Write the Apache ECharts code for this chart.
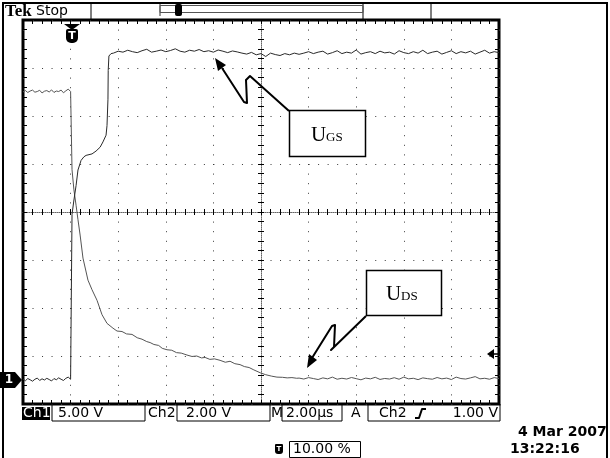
<!DOCTYPE html>
<html>
<head>
<meta charset="utf-8">
<script src="https://cdn.jsdelivr.net/npm/echarts@6/dist/echarts.min.js"></script>
<style>
html, body { margin: 0; padding: 0; background: #fff; }
#scope { width: 610px; height: 458px; }
</style>
</head>
<body>
<div id="scope"></div>
<script>
// time in µs (M 2.00µs/div, trigger at 10 %), Ch1 = U_DS 5 V/div, Ch2 = U_GS 2 V/div
var timeRange = [-2, 18];
var preStep = 0.1;     // µs between points before the trigger
var sampleStep = 0.2;  // µs between points of the flat tails

// U_GS (Ch2), volts
var ugsBefore = [0.04, -0.03, 0.06, 0.01, -0.05, 0.03, 0.08, -0.02, 0.05, 0.0, 0.07,
  0.02, -0.04, 0.06, 0.01, 0.09, 0.03, -0.02, 0.07, 0.12, 0.03];
var ugsEdge = [[0.05, 0.03], [0.06, 6.9], [0.14, 7.5], [0.23, 8.1], [0.31, 8.75], [0.44, 9.15],
  [0.56, 9.3], [0.65, 9.36], [0.73, 9.3], [0.9, 9.42], [1.07, 9.54], [1.24, 9.7], [1.36, 9.92],
  [1.49, 10.2], [1.53, 10.6], [1.57, 11.7], [1.58, 12.9], [1.61, 13.5], [1.7, 13.6]];
var ugsFlatStart = 1.8;
var ugsFlat = [13.62, 13.7, 13.66, 13.74, 13.68, 13.64, 13.72, 13.78, 13.66, 13.7, 13.75, 13.68,
  13.73, 13.8, 13.7, 13.66, 13.74, 13.7, 13.77, 13.68, 13.72, 13.66, 13.75, 13.7, 13.64, 13.71, 13.67,
  13.62, 13.58, 13.65, 13.55, 13.6, 13.48, 13.62, 13.56, 13.52, 13.6, 13.55, 13.62, 13.57,
  13.62, 13.68, 13.6, 13.66, 13.7, 13.58, 13.64, 13.72, 13.6, 13.66, 13.62, 13.75, 13.58, 13.64,
  13.68, 13.6, 13.7, 13.63, 13.66, 13.58, 13.72, 13.64, 13.6, 13.68, 13.62, 13.74, 13.6, 13.66,
  13.7, 13.58, 13.65, 13.72, 13.6, 13.68, 13.63, 13.7, 13.58, 13.66, 13.74, 13.62, 13.68, 13.64];

// U_DS (Ch1), volts
var udsBefore = [30.0, 30.15, 29.95, 30.1, 30.2, 29.98, 30.05, 30.18, 29.9, 30.08, 30.15,
  30.0, 30.22, 29.95, 30.1, 30.05, 30.2, 29.92, 30.12, 30.3, 30.05];
var udsEdge = [[0.05, 30.0], [0.06, 21.9], [0.14, 19.8], [0.23, 18.2], [0.31, 16.7], [0.4, 15.1],
  [0.52, 12.7], [0.73, 10.4], [0.9, 9.4], [1.11, 8.3], [1.32, 6.8], [1.53, 5.9], [1.78, 5.4],
  [1.95, 5.1], [2.16, 5.05], [2.35, 4.8], [2.58, 4.75], [2.8, 4.4], [3.0, 4.25], [3.2, 4.0],
  [3.34, 3.9], [3.5, 3.7], [3.7, 3.6], [3.85, 3.3], [4.05, 3.15], [4.25, 3.1], [4.45, 2.85],
  [4.65, 2.8], [4.89, 2.6], [5.1, 2.45], [5.3, 2.5], [5.5, 2.3], [5.65, 2.35], [5.85, 2.15],
  [6.05, 2.2], [6.28, 2.05], [6.5, 1.85], [6.7, 1.95], [6.9, 1.7], [7.12, 1.6], [7.3, 1.4],
  [7.5, 1.3], [7.7, 1.05], [7.97, 0.75], [8.2, 0.55], [8.45, 0.4], [8.67, 0.3], [8.9, 0.28],
  [9.1, 0.22], [9.3, 0.25], [9.5, 0.18]];
var udsFlatStart = 9.6;
var udsFlat = [0.2, 0.1, 0.25, 0.15, 0.05, 0.22, 0.12, 0.3, 0.08, 0.18, 0.1, 0.26, 0.14, 0.02,
  0.2, 0.12, 0.28, 0.06, 0.16, 0.1, 0.24, 0.08, 0.3, 0.12, 0.18, 0.04, 0.22, 0.14, 0.08, 0.26,
  0.12, 0.2, 0.05, 0.3, 0.15, 0.1, 0.22, 0.35, 0.12, 0.18, 0.08, 0.25, 0.15];

// readouts
var readouts = { ch1: '5.00 V', ch2: '2.00 V', time: '2.00µs', trig: '1.00 V', pos: '10.00 %' };
var dateText = '4 Mar 2007';
var clockText = '13:22:16';

function buildTrace(before, edge, flatStart, flat) {
  var pts = [];
  before.forEach(function (v, i) { pts.push([timeRange[0] + i * preStep, v]); });
  edge.forEach(function (p) { pts.push(p); });
  flat.forEach(function (v, i) { pts.push([flatStart + i * sampleStep, v]); });
  return pts;
}

var chart = echarts.init(document.getElementById('scope'));

var tickStyle = { color: '#000', width: 1 };
var dotColor = '#3a3a3a';
var sans = '"DejaVu Sans"';

function gratAxis(pos, opts) {
  var a = {
    type: 'value', position: pos, interval: 1,
    axisLine: { show: false, onZero: false },
    axisTick: { show: true, inside: true, length: 4, lineStyle: tickStyle },
    minorTick: { show: true, splitNumber: 5, length: 4, lineStyle: tickStyle },
    axisLabel: { show: false },
    splitLine: { show: false }
  };
  return Object.assign(a, opts);
}

function txt(x, y, s, font, align, color) {
  return { type: 'text', x: x, y: y, z: 110,
    style: { text: s, font: font, fill: color || '#000', align: align || 'left', verticalAlign: 'middle',
      textAlign: align || 'left', textVerticalAlign: 'middle' } };
}
function seg(pts, w, color) {
  return { type: 'polyline', z: 110, shape: { points: pts },
    style: { fill: 'none', stroke: color || '#000', lineWidth: w || 1, lineJoin: 'round' } };
}

var option = {
  animation: false,
  backgroundColor: '#fff',
  grid: { left: 23, top: 20, width: 476, height: 384, show: true, borderColor: '#000', borderWidth: 3 },
  xAxis: [
    gratAxis('bottom', { min: -5, max: 5,
      splitLine: { show: true, lineStyle: { color: dotColor, width: 1, type: [1, 8.6] } } }),
    gratAxis('top', { min: -5, max: 5 }),
    gratAxis('bottom', { min: -5, max: 5,
      axisLine: { show: true, onZero: true, onZeroAxisIndex: 0, lineStyle: { color: '#666', width: 1, type: [1, 1] } },
      axisTick: { show: true, inside: true, length: 3, lineStyle: tickStyle },
      minorTick: { show: true, splitNumber: 5, length: 3, lineStyle: tickStyle } }),
    gratAxis('bottom', { min: -5, max: 5,
      axisLine: { show: false, onZero: true, onZeroAxisIndex: 0 },
      axisTick: { show: true, inside: false, length: 3, lineStyle: tickStyle },
      minorTick: { show: true, splitNumber: 5, length: 3, lineStyle: tickStyle } }),
    { type: 'value', position: 'bottom', min: timeRange[0], max: timeRange[1], show: false,
      axisLine: { onZero: false } }
  ],
  yAxis: [
    gratAxis('left', { min: -4, max: 4,
      splitLine: { show: true, lineStyle: { color: dotColor, width: 1, type: [1, 8.52] } } }),
    gratAxis('right', { min: -4, max: 4 }),
    gratAxis('left', { min: -4, max: 4,
      axisLine: { show: true, onZero: true, onZeroAxisIndex: 0, lineStyle: { color: '#666', width: 1, type: [1, 1] } },
      axisTick: { show: true, inside: true, length: 3, lineStyle: tickStyle },
      minorTick: { show: true, splitNumber: 5, length: 3, lineStyle: tickStyle } }),
    gratAxis('left', { min: -4, max: 4,
      axisLine: { show: false, onZero: true, onZeroAxisIndex: 0 },
      axisTick: { show: true, inside: false, length: 3, lineStyle: tickStyle },
      minorTick: { show: true, splitNumber: 5, length: 3, lineStyle: tickStyle } }),
    // Ch1: ground 3.5 div below centre, 5 V/div
    { type: 'value', position: 'left', min: -2.5, max: 37.5, show: false, axisLine: { onZero: false } },
    // Ch2: ground 3.5 div below centre, 2 V/div
    { type: 'value', position: 'right', min: -1, max: 15, show: false, axisLine: { onZero: false } }
  ],
  series: [
    { name: 'UDS', type: 'line', xAxisIndex: 4, yAxisIndex: 4, silent: true, clip: true,
      showSymbol: false, symbol: 'none', z: 5,
      lineStyle: { color: '#555', width: 1 },
      data: buildTrace(udsBefore, udsEdge, udsFlatStart, udsFlat) },
    { name: 'UGS', type: 'line', xAxisIndex: 4, yAxisIndex: 5, silent: true, clip: true,
      showSymbol: false, symbol: 'none', z: 6,
      lineStyle: { color: '#2a2a2a', width: 1 },
      data: buildTrace(ugsBefore, ugsEdge, ugsFlatStart, ugsFlat) }
  ],
  graphic: { elements: [
    // outer frame
    { type: 'rect', z: 100, shape: { x: 3, y: 3, width: 604, height: 462 },
      style: { fill: 'none', stroke: '#000', lineWidth: 2 } },
    // header
    txt(5, 12, 'Tek', 'bold 17px "Liberation Serif"'),
    txt(36, 11, 'Stop', '14px ' + sans),
    seg([[91, 3], [91, 20]], 1),
    seg([[363, 3], [363, 20]], 1),
    seg([[431, 3], [431, 20]], 1),
    seg([[160, 4], [160, 16]], 1, '#333'),
    { type: 'rect', z: 110, shape: { x: 160, y: 5.5, width: 203, height: 7 },
      style: { fill: 'none', stroke: '#555', lineWidth: 1 } },
    { type: 'rect', z: 111, shape: { x: 175, y: 4, width: 7, height: 12, r: 2 }, style: { fill: '#000' } },
    txt(178.5, 10, 'T', 'bold 8px ' + sans, 'center', '#fff'),
    // trigger position marker
    { type: 'polygon', z: 110, shape: { points: [[64, 24], [80, 24], [72, 30]] }, style: { fill: '#000' } },
    { type: 'rect', z: 110, shape: { x: 66, y: 29, width: 12, height: 14, r: [2, 2, 5, 5] }, style: { fill: '#000' } },
    txt(72, 36, 'T', 'bold 11px ' + sans, 'center', '#fff'),
    // Ch1 ground marker
    { type: 'polygon', z: 110, shape: { points: [[0, 372], [15, 372], [22, 380], [15, 388], [0, 388]] }, style: { fill: '#000' } },
    txt(9, 380, '1', 'bold 12px ' + sans, 'center', '#fff'),
    // trigger level marker
    { type: 'polygon', z: 110, shape: { points: [[487, 354], [494, 349], [494, 359]] }, style: { fill: '#000' } },
    seg([[494, 354], [498, 354]], 1.5),
    // readout row
    { type: 'rect', z: 110, shape: { x: 22, y: 407, width: 28, height: 13 }, style: { fill: '#000' } },
    txt(23, 413.5, 'Ch1', '14px ' + sans, 'left', '#fff'),
    seg([[52, 404], [52, 421], [145, 421], [145, 404]], 1),
    txt(58, 413, readouts.ch1, '14px ' + sans),
    txt(148, 413, 'Ch2', '14px ' + sans),
    seg([[177, 404], [177, 421], [270, 421], [270, 404]], 1),
    txt(186, 413, readouts.ch2, '14px ' + sans),
    txt(271, 413, 'M', '14px ' + sans),
    seg([[282, 404], [282, 421], [342, 421], [342, 404]], 1),
    txt(286, 413, readouts.time, '14px ' + sans),
    txt(351, 413, 'A', '14px ' + sans),
    seg([[368, 404], [368, 421], [500, 421], [500, 404]], 1),
    txt(379, 413, 'Ch2', '14px ' + sans),
    seg([[415, 418], [419, 418], [422, 409], [426, 409]], 2),
    txt(498, 413, readouts.trig, '14px ' + sans, 'right'),
    // date / time
    txt(518, 432, dateText, 'bold 14px ' + sans),
    txt(510, 449, clockText, 'bold 14px ' + sans),
    // trigger position readout
    { type: 'rect', z: 110, shape: { x: 275, y: 444, width: 8, height: 10, r: [1, 1, 3, 3] }, style: { fill: '#000' } },
    txt(279, 449, 'T', 'bold 7px ' + sans, 'center', '#fff'),
    { type: 'rect', z: 110, shape: { x: 289.5, y: 441.5, width: 71, height: 16 },
      style: { fill: 'none', stroke: '#000', lineWidth: 1 } },
    txt(293, 449.5, readouts.pos, '14px ' + sans),
    // U_GS annotation
    seg([[289, 111], [250, 76], [246, 80], [247, 103], [244, 102], [222, 68]], 2),
    { type: 'polygon', z: 110, shape: { points: [[215, 58], [218, 71], [226, 65]] }, style: { fill: '#000' } },
    { type: 'rect', z: 110, shape: { x: 289.5, y: 110.5, width: 76, height: 46 },
      style: { fill: '#fff', stroke: '#000', lineWidth: 1.5 } },
    txt(311, 135, 'U', '21px "Liberation Serif"'),
    txt(326, 138, 'GS', '13px "Liberation Serif"'),
    // U_DS annotation
    seg([[366, 316], [331, 350], [334, 347], [335, 325], [332, 326], [312, 358]], 2),
    { type: 'polygon', z: 110, shape: { points: [[307, 368], [309, 354], [317, 360]] }, style: { fill: '#000' } },
    { type: 'rect', z: 110, shape: { x: 366.5, y: 270.5, width: 75, height: 45 },
      style: { fill: '#fff', stroke: '#000', lineWidth: 1.5 } },
    txt(386, 294, 'U', '21px "Liberation Serif"'),
    txt(401, 297, 'DS', '13px "Liberation Serif"')
  ] }
};

chart.setOption(option);
</script>
</body>
</html>
